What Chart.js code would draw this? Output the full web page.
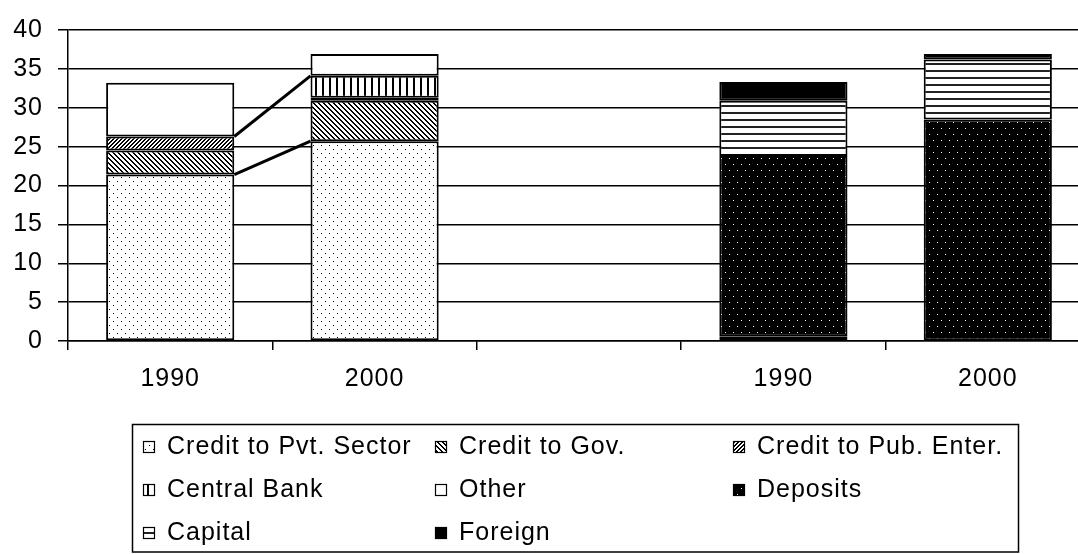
<!DOCTYPE html>
<html>
<head>
<meta charset="utf-8">
<script src="https://cdn.jsdelivr.net/npm/chart.js@4/dist/chart.umd.min.js"></script>
<style>
  html, body { margin: 0; padding: 0; background: #fff; overflow: hidden; }
  canvas { display: block; }
</style>
</head>
<body>
<canvas id="bankChart" width="1090" height="554"></canvas>
<script>
(function () {
    "use strict";

    // assets (left pair) and liabilities (right pair), gap in between
    var years = ['1990', '2000', '', '1990', '2000'];

    var creditPvt  = [21.4, 25.7, null, null, null];
    var creditGov  = [3.1, 5.2, null, null, null];
    var creditPub  = [1.8, 0.4, null, null, null];
    var centralBnk = [0, 2.8, null, 0.6, null];
    var other      = [6.9, 2.8, null, null, null];
    var deposits   = [null, null, null, 23.2, 28.5];
    var capital    = [null, null, null, 7.1, 7.7];
    var foreign    = [null, null, null, 2.4, 0.7];

    var yTicks = [0, 5, 10, 15, 20, 25, 30, 35, 40];

    var FONT = '"Liberation Sans", Arial, sans-serif';
    var SPACING = '1px';

    /* little bitmap fills, like the old office hatches */
    function tile(w, h, bg, fg, px) {
        var c = document.createElement('canvas');
        c.width = w; c.height = h;
        var g = c.getContext('2d');
        g.fillStyle = bg; g.fillRect(0, 0, w, h);
        g.fillStyle = fg;
        px.forEach(function (p) { g.fillRect(p[0], p[1], p[2] || 1, p[3] || 1); });
        return g.createPattern(c, 'repeat');
    }

    var diagDown = [], diagUp = [];
    for (var i = 0; i < 5; i++) { diagDown.push([i, i], [(i + 1) % 5, i]); }
    for (var j = 0; j < 4; j++) { diagUp.push([3 - j, j], [(4 - j) % 4, j]); }

    var fills = {
        pvt: tile(8, 8, '#fff', '#000', [[1, 1], [5, 5]]),
        gov: tile(5, 5, '#fff', '#000', diagDown),
        pub: tile(4, 4, '#fff', '#000', diagUp),
        cb: tile(7, 1, '#fff', '#000', [[0, 0, 2, 1]]),
        other: '#fff',
        dep: tile(8, 12, '#000', '#fff', [[1, 2], [5, 8]]),
        cap: tile(1, 7, '#fff', '#222', [[0, 0, 1, 2]]),
        frn: '#000'
    };

    function series(label, data, fill, extra) {
        var ds = {
            label: label,
            data: data,
            backgroundColor: fill,
            borderColor: '#000',
            borderWidth: 2,
            borderSkipped: false,
            stack: 'one'
        };
        return Object.assign(ds, extra || {});
    }

    // text in this chart is slightly spaced out
    var spacingPlugin = {
        id: 'spacing',
        beforeLayout: function (chart) { chart.ctx.letterSpacing = SPACING; },
        beforeDraw: function (chart) { chart.ctx.letterSpacing = SPACING; }
    };

    // lines joining stack tops of the two asset bars
    var seriesLines = {
        id: 'seriesLines',
        afterDatasetsDraw: function (chart) {
            var ctx = chart.ctx;
            chart.data.datasets.forEach(function (ds, idx) {
                if (!ds.seriesLine) return;
                var meta = chart.getDatasetMeta(idx);
                var a = meta.data[0], b = meta.data[1];
                ctx.save();
                ctx.strokeStyle = '#000';
                ctx.lineWidth = 3;
                ctx.beginPath();
                ctx.moveTo(a.x + a.width / 2, a.y);
                ctx.lineTo(b.x - b.width / 2, b.y);
                ctx.stroke();
                ctx.restore();
            });
        }
    };

    // boxed legend, three columns
    var boxLegend = {
        id: 'boxLegend',
        afterDraw: function (chart) {
            var ctx = chart.ctx;
            var cols = [143, 435, 733];
            var rows = [454, 497, 540];
            ctx.save();
            ctx.letterSpacing = SPACING;
            ctx.strokeStyle = '#000';
            ctx.lineWidth = 1.5;
            ctx.strokeRect(132.5, 424.5, 886, 127.5);
            ctx.font = '25px ' + FONT;
            ctx.textBaseline = 'alphabetic';
            ctx.textAlign = 'left';
            chart.data.datasets.forEach(function (ds, k) {
                var x = cols[k % 3], base = rows[Math.floor(k / 3)];
                ctx.fillStyle = ds.backgroundColor;
                ctx.fillRect(x, base - 13, 12, 12);
                ctx.lineWidth = 1.2;
                ctx.strokeRect(x + 0.5, base - 12.5, 11, 11);
                ctx.fillStyle = '#000';
                ctx.fillText(ds.label, x + 24, base);
            });
            ctx.restore();
        }
    };

    Chart.defaults.font.family = FONT;
    Chart.defaults.font.size = 25;
    Chart.defaults.color = '#000';

    var ctx = document.getElementById('bankChart').getContext('2d');
    new Chart(ctx, {
        type: 'bar',
        data: {
            labels: years,
            datasets: [
                series('Credit to Pvt. Sector', creditPvt, fills.pvt, { seriesLine: true }),
                series('Credit to Gov.', creditGov, fills.gov),
                series('Credit to Pub. Enter.', creditPub, fills.pub),
                series('Central Bank', centralBnk, fills.cb, { seriesLine: true }),
                series('Other', other, fills.other),
                series('Deposits', deposits, fills.dep),
                series('Capital', capital, fills.cap),
                series('Foreign', foreign, fills.frn)
            ]
        },
        options: {
            responsive: false,
            animation: false,
            devicePixelRatio: 1,
            layout: { padding: { top: 22, bottom: 153, left: 0, right: 0 } },
            datasets: {
                bar: { categoryPercentage: 1, barPercentage: 0.627 }
            },
            plugins: {
                legend: { display: false },
                tooltip: { enabled: false }
            },
            scales: {
                x: {
                    stacked: true,
                    offset: true,
                    afterFit: function (s) { s.height = 60; },
                    grid: {
                        offset: true,
                        drawOnChartArea: false,
                        drawTicks: true,
                        tickLength: 9,
                        color: '#000',
                        lineWidth: 1.5
                    },
                    border: { color: '#000', width: 1.5 },
                    ticks: { padding: 14, maxRotation: 0 }
                },
                y: {
                    stacked: true,
                    min: yTicks[0],
                    max: yTicks[yTicks.length - 1],
                    afterFit: function (s) { s.width = 68; },
                    afterBuildTicks: function (s) {
                        s.ticks = yTicks.map(function (v) { return { value: v }; });
                    },
                    grid: {
                        color: '#000',
                        lineWidth: 1.5,
                        tickLength: 10
                    },
                    border: { color: '#000', width: 1.5 },
                    ticks: { padding: 15 }
                }
            }
        },
        plugins: [spacingPlugin, seriesLines, boxLegend]
    });
})();
</script>
</body>
</html>
